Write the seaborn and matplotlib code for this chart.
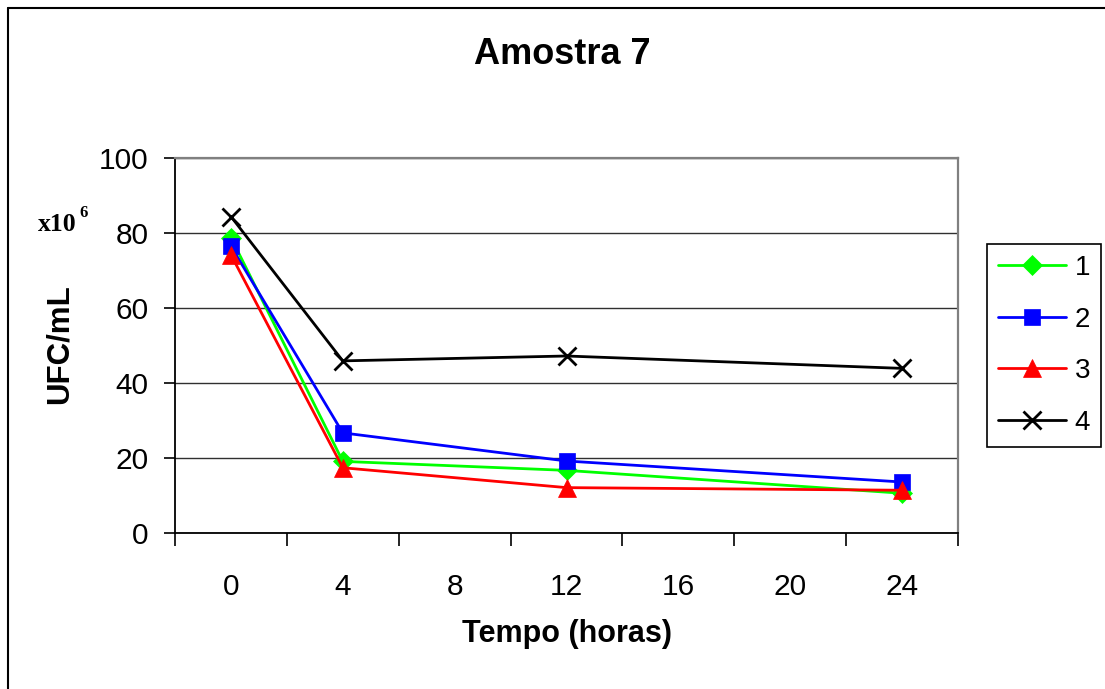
import matplotlib
matplotlib.use("Agg")
import matplotlib.pyplot as plt
from matplotlib.lines import Line2D
import seaborn as sns
import pandas as pd

# ---- data ----
hours = [0, 4, 12, 24]
serie_1 = [78.8, 19.1, 16.7, 10.6]
serie_2 = [76.5, 26.7, 19.2, 13.6]
serie_3 = [74.2, 17.4, 12.1, 11.4]
serie_4 = [84.4, 45.9, 47.2, 43.9]
series_names = ["1", "2", "3", "4"]
x_tick_labels = ["0", "4", "8", "12", "16", "20", "24"]
y_ticks = [0, 20, 40, 60, 80, 100]

title = "Amostra 7"
xlabel = "Tempo (horas)"
ylabel = "UFC/mL"

sns.set_style("white")
plt.rcParams["font.family"] = ["Liberation Sans", "DejaVu Sans"]
plt.rcParams["text.color"] = "black"
plt.rcParams["xtick.color"] = "black"
plt.rcParams["ytick.color"] = "black"

W, H = 1105, 689
fig = plt.figure(figsize=(W / 100, H / 100), dpi=100)
ax = fig.add_axes([175 / W, 1 - 533 / H, (958 - 175) / W, (533 - 158) / H])

styles = [
    dict(color="#00FF00", marker="D", markersize=10),
    dict(color="#0000FF", marker="s", markersize=11),
    dict(color="#FF0000", marker="^", markersize=13),
    dict(color="#000000", marker="x", markersize=13),
]
values = [serie_1, serie_2, serie_3, serie_4]

for name, vals, st in zip(series_names, values, styles):
    df = pd.DataFrame({"hora": hours, "ufc": vals})
    sns.lineplot(data=df, x="hora", y="ufc", ax=ax, color=st["color"],
                 marker=st["marker"], markersize=st["markersize"],
                 markeredgecolor=st["color"], markerfacecolor=st["color"],
                 markeredgewidth=2 if st["marker"] == "x" else 0.5,
                 linewidth=2, label=name, legend=False)

ax.set_xlim(-2, 26)
ax.set_ylim(0, 100)
ax.set_yticks(y_ticks)
ax.set_yticklabels([str(v) for v in y_ticks], fontsize=21.5)
ax.set_xticks(list(range(0, 25, 4)))
ax.set_xticklabels(x_tick_labels, fontsize=21.5)
ax.set_xticks(list(range(-2, 27, 4)), minor=True)
ax.tick_params(axis="x", which="major", length=0, pad=29)
ax.tick_params(axis="x", which="minor", length=9, width=1.2, color="black", direction="out", bottom=True)
ax.tick_params(axis="y", which="major", length=8, width=1.2, color="black", direction="out", left=True, pad=11)
ax.grid(axis="y", color="#303030", linewidth=1)
ax.grid(axis="x", visible=False)
ax.set_axisbelow(True)

for s in ["left", "bottom"]:
    ax.spines[s].set_color("black")
    ax.spines[s].set_linewidth(1.3)
for s in ["top", "right"]:
    ax.spines[s].set_color("#808080")
    ax.spines[s].set_linewidth(1.6)
    ax.spines[s].set_visible(True)

ax.set_xlabel("")
ax.set_ylabel("")
fig.text(562 / W, 1 - 54 / H, title, ha="center", va="center", fontsize=26, fontweight="bold")
fig.text(567 / W, 1 - 634 / H, xlabel, ha="center", va="center", fontsize=22, fontweight="bold")
fig.text(60 / W, 1 - 344 / H, ylabel, ha="center", va="center", rotation=90, fontsize=22.5, fontweight="bold")
fig.text(38 / W, 1 - 224 / H, "x10", ha="left", va="center", fontsize=18.5, fontweight="bold",
         family=["Liberation Serif", "DejaVu Serif"])
fig.text(79 / W, 1 - 213 / H, "6", ha="left", va="center", fontsize=12, fontweight="bold",
         family=["Liberation Serif", "DejaVu Serif"])

handles = [Line2D([0], [0], color=st["color"], marker=st["marker"], markersize=st["markersize"],
                  markeredgecolor=st["color"], markerfacecolor=st["color"],
                  markeredgewidth=2 if st["marker"] == "x" else 0.5, linewidth=2)
           for st in styles]
leg = fig.legend(handles, series_names, loc="upper left",
                 bbox_to_anchor=(987 / W, 1 - 244 / H), fontsize=20,
                 frameon=True, fancybox=False, edgecolor="black", framealpha=1,
                 handlelength=2.45, labelspacing=0.92, borderpad=0.4, handletextpad=0.3,
                 borderaxespad=0)
leg.get_frame().set_linewidth(1.2)

# outer chart border
fig.add_artist(Line2D([8 / W, 8 / W], [0, 1 - 8 / H], transform=fig.transFigure, color="black", lw=1.5))
fig.add_artist(Line2D([8 / W, 1], [1 - 8 / H, 1 - 8 / H], transform=fig.transFigure, color="black", lw=1.5))

fig.savefig("out.png", dpi=100, facecolor="white")
